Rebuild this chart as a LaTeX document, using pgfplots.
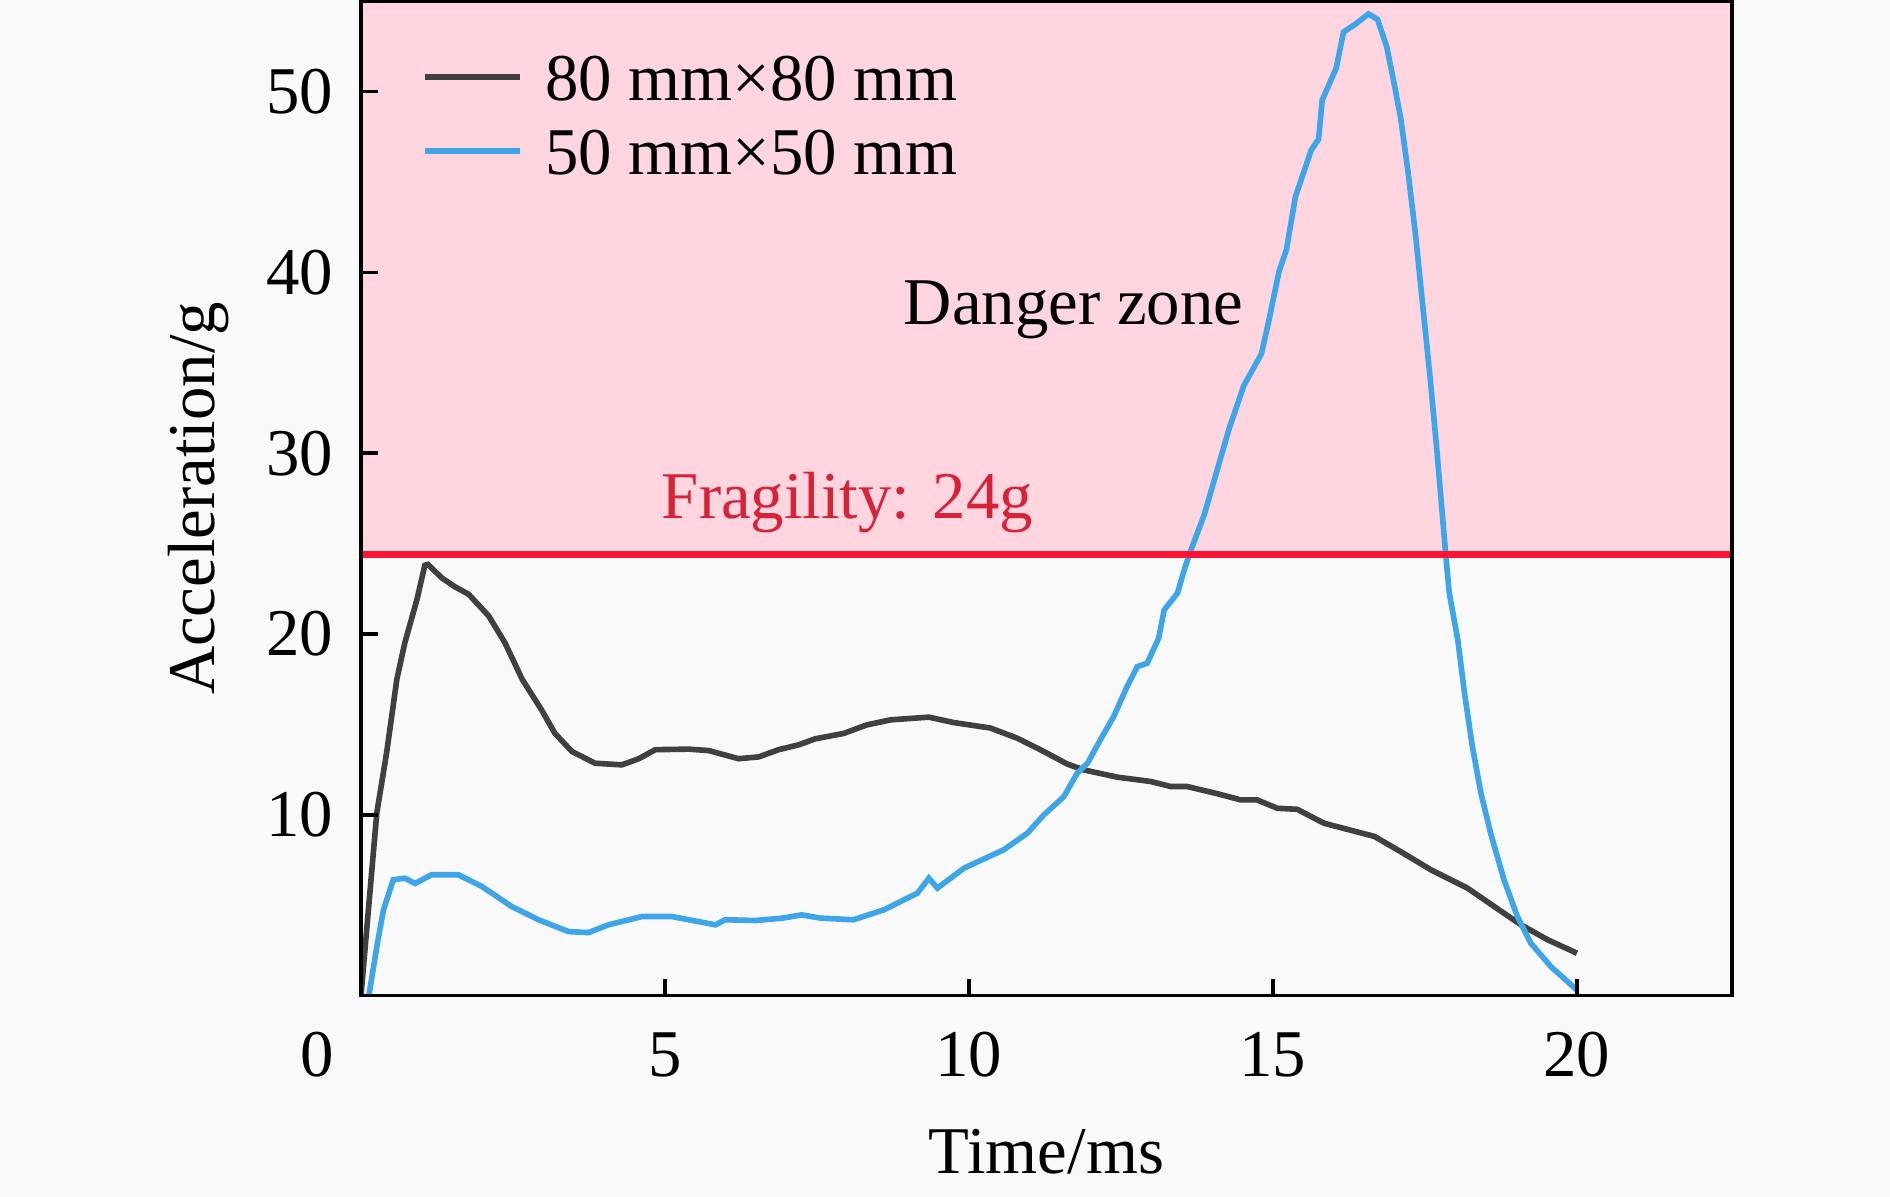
\documentclass[border=0pt]{standalone}
\usepackage{fontspec}
\setmainfont{Liberation Serif}
\usepackage{pgfplots}
\pgfplotsset{compat=1.18}
\definecolor{curveblack}{RGB}{64,64,64}
\definecolor{curveblue}{RGB}{62,166,232}
\definecolor{dangerpink}{RGB}{255,214,224}
\definecolor{fragred}{RGB}{255,20,50}
\definecolor{textred}{RGB}{215,35,55}
\definecolor{bgc}{RGB}{249,249,249}
\begin{document}
\fontsize{19}{23}\selectfont
\begin{tikzpicture}[font=\fontsize{19}{23}\selectfont]
\path[fill=bgc, use as bounding box] (-36.1mm,-20.1mm) rectangle (152.9mm,99.55mm);
\begin{axis}[
  at={(0,0)}, anchor=south west,
  scale only axis, width=137.1mm, height=99.42mm,
  xmin=0, xmax=22.55, ymin=0, ymax=55,
  axis on top,
  axis line style={line width=1pt, black},
  major tick style={line width=1pt, black},
  major tick length=1.7mm,
  tick align=inside, tick pos=left,
  xtick={5,10,15,20},
  ytick={10,20,30,40,50},
  extra x ticks={0},
  extra x tick style={major tick length=0pt, xticklabel style={xshift=-4.35mm}},
  /pgf/number format/assume math mode=true,
  xticklabel style={anchor=base, inner sep=0pt, yshift=-8.05mm},
  yticklabel style={anchor=east, inner sep=0pt, xshift=-2.7mm},
  xlabel={Time/ms},
  ylabel={Acceleration/g},
  xlabel style={at={(axis description cs:0.5,-0.1788)}, anchor=base, inner sep=0pt},
  ylabel style={at={(axis description cs:-0.1072,0.5)}, anchor=base, rotate=0, inner sep=0pt},
  legend style={at={(axis description cs:0.0443,0.9503)}, anchor=north west,
    draw=none, fill=none, inner sep=0pt, outer sep=0pt,
    row sep=2.4mm, column sep=2.2mm,
    nodes={inner sep=0pt, text height=5mm, text depth=0pt},
    cells={anchor=base west}},
  legend image code/.code={\draw[#1, line width=1.8pt] (0mm,2.35mm) -- (9.5mm,2.35mm);},
]
\addplot[fill=dangerpink, draw=none, forget plot] coordinates {(0,24.4) (22.55,24.4) (22.55,55) (0,55)} -- cycle;

\addplot[curveblack, line width=1.6pt] coordinates {
(0,0) (0.26,10.1) (0.42,13.4) (0.59,17.5) (0.72,19.5) (0.92,21.9) (1.05,23.8) (1.10,23.85)
(1.33,23.1) (1.55,22.6) (1.77,22.2) (2.10,21.0) (2.37,19.5) (2.65,17.5) (2.97,15.8) (3.19,14.5)
(3.47,13.5) (3.85,12.85) (4.29,12.76) (4.57,13.1) (4.84,13.6) (5.39,13.63) (5.72,13.55) (6.21,13.1)
(6.54,13.2) (6.87,13.6) (7.20,13.87) (7.47,14.2) (7.94,14.5) (8.32,14.97) (8.71,15.25) (9.34,15.4)
(9.75,15.1) (10.35,14.8) (10.79,14.24) (11.23,13.5) (11.62,12.8) (11.89,12.48) (12.44,12.08)
(12.99,11.84) (13.32,11.56) (13.59,11.56) (14.09,11.16) (14.47,10.82) (14.74,10.82) (15.07,10.36)
(15.40,10.3) (15.84,9.53) (16.67,8.8) (17.10,7.96) (17.60,6.95) (18.20,5.94) (18.64,4.92)
(19.08,3.91) (19.52,3.08) (20.0,2.34)};
\addlegendentry{80 mm×80 mm}

\addplot[curveblue, line width=1.6pt] coordinates {
(0.13,0) (0.26,2.7) (0.37,4.74) (0.53,6.4) (0.72,6.49) (0.89,6.2) (1.16,6.68) (1.60,6.68)
(1.99,6.03) (2.48,4.92) (2.92,4.19) (3.41,3.54) (3.74,3.48) (4.07,3.91) (4.62,4.37) (5.11,4.37)
(5.55,4.09) (5.83,3.91) (5.99,4.19) (6.49,4.15) (6.93,4.28) (7.25,4.46) (7.56,4.28) (8.10,4.19)
(8.60,4.74) (9.15,5.66) (9.34,6.49) (9.48,5.94) (9.92,7.05) (10.57,8.06) (10.96,8.98) (11.23,9.99)
(11.56,11.0) (11.78,12.3) (11.95,12.85) (12.16,14.14) (12.38,15.43) (12.60,17.09) (12.77,18.2)
(12.93,18.38) (13.12,19.77) (13.21,21.33) (13.43,22.26) (13.54,23.54) (13.63,24.45) (13.87,26.6)
(14.11,29.4) (14.28,31.37) (14.52,33.74) (14.81,35.5) (14.93,37.3) (15.10,40.06) (15.22,41.24)
(15.37,44.2) (15.63,46.78) (15.75,47.37) (15.81,49.54) (16.04,51.3) (16.16,53.3) (16.34,53.7)
(16.57,54.3) (16.72,54.0) (16.87,52.5) (16.99,50.5) (17.10,48.55) (17.22,45.6) (17.34,42.23)
(17.46,38.28) (17.58,34.33) (17.69,30.38) (17.79,26.43) (17.84,24.45) (17.90,22.26) (18.04,19.67)
(18.15,16.73) (18.28,13.77) (18.42,11.2) (18.58,8.98) (18.80,6.4) (19.02,4.37) (19.24,2.9)
(19.57,1.6) (20.0,0.3)};
\addlegendentry{50 mm×50 mm}

\addplot[fragred, line width=2.2pt, forget plot] coordinates {(0,24.4) (22.55,24.4)};

\node[anchor=base, inner sep=0pt] at (axis cs:11.72,37.13) {Danger zone};
\node[anchor=base, inner sep=0pt, text=textred] at (axis cs:8.0,26.37) {Fragility: 24g};
\end{axis}
\end{tikzpicture}
\end{document}
